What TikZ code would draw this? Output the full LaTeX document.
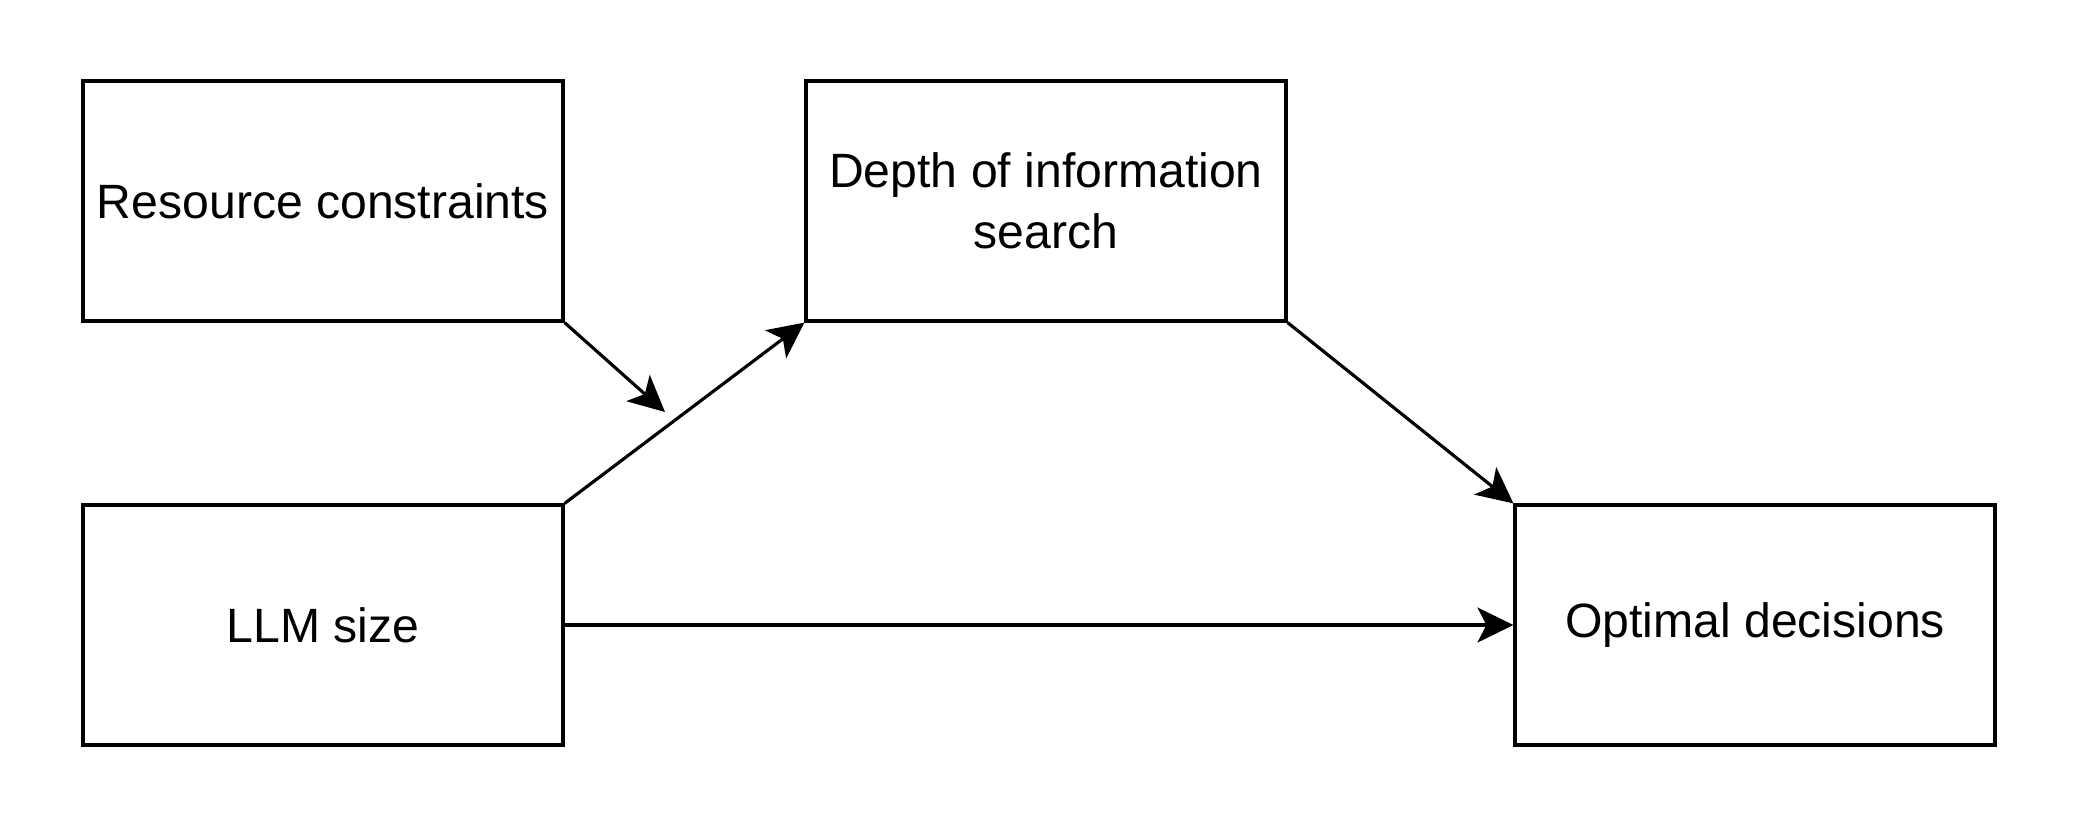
\documentclass[tikz,border=0pt]{standalone}
\usepackage{fontspec}
\setmainfont{Liberation Sans}
\usetikzlibrary{arrows.meta}
\begin{document}
\begin{tikzpicture}[
    box/.style={draw, line width=0.9pt, minimum width=4.80cm, minimum height=2.4cm,
        align=center, font=\fontsize{13.7}{17.4}\selectfont},
    arr/.style={line width=0.9pt, -{Stealth[length=0.36cm, width=0.35cm, inset=0.09cm]}}
]
    \useasboundingbox (0,0) rectangle (20.76,-8.28);
    % 绘制方框
    \node[box] (res) at (3.23,-2.01) {Resource constraints};
    \node[box] (llm) at (3.23,-6.25) {LLM size};
    \node[box] (depth) at (10.46,-2.01) {Depth of information\\search};
    \node[box] (opt) at (17.55,-6.25) {Optimal decisions};
    \coordinate (mod) at (6.65,-4.12);

    % 绘制箭头
    \draw[arr] (res.south east) -- (mod);
    \draw[arr] (llm.north east) -- (depth.south west);
    \draw[arr] (depth.south east) -- (opt.north west);
    \draw[arr] (llm.east) -- (opt.west);
\end{tikzpicture}
\end{document}
